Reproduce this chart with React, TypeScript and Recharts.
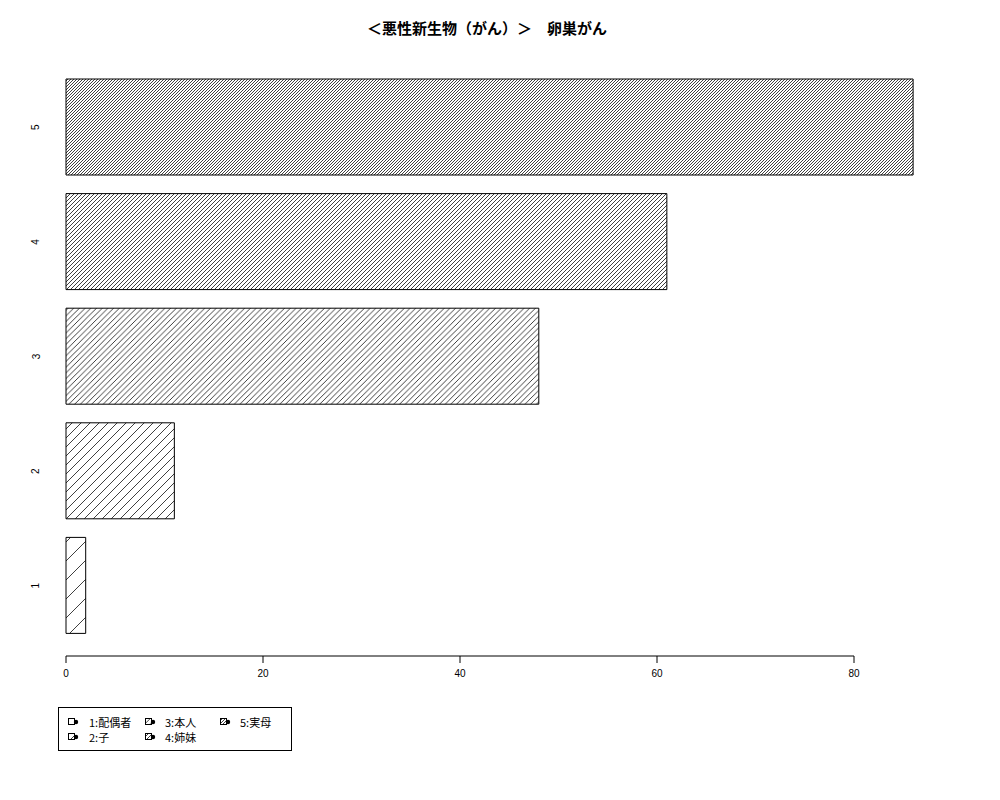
import React from 'react';
import { BarChart, Bar, XAxis, YAxis, Cell } from 'recharts';

const categories = ['1', '2', '3', '4', '5'];
const values = [2, 11, 48, 61, 86];
const legendLabels = ['1:配偶者', '2:子', '3:本人', '4:姉妹', '5:実母'];
const xTicks = [0, 20, 40, 60, 80];
const title = '＜悪性新生物（がん）＞　卵巣がん';

const hatchSpacing = [19, 9, 5.7, 4, 3];

const data = categories.map((c, i) => ({ name: c, value: values[i] }));

const FONT = '"Liberation Sans", Arial, sans-serif';
const CJK = '"Noto Sans CJK JP", "Liberation Sans", sans-serif';

const YTick = (props: any) => {
  const { x, y, payload } = props;
  return (
    <text
      x={x}
      y={y}
      transform={`rotate(-90 ${x} ${y})`}
      textAnchor="middle"
      dy="0.35em"
      fontSize={10}
      fontFamily={FONT}
      fill="#000"
    >
      {payload.value}
    </text>
  );
};

const Patterns = () => (
  <svg width={0} height={0} style={{ position: 'absolute', left: 0, top: 0 }}>
    <defs>
      {hatchSpacing.map((s, i) => (
        <pattern key={i} id={`hatch${i}`} patternUnits="userSpaceOnUse" width={s} height={s}>
          <rect x={0} y={0} width={s} height={s} fill="#fff" />
          <path
            d={`M-1,1 l2,-2 M0,${s} l${s},${-s} M${s - 1},${s + 1} l2,-2`}
            stroke="#000"
            strokeWidth={0.75}
            fill="none"
          />
        </pattern>
      ))}
    </defs>
  </svg>
);

const legendPos = [
  { kx: 68, tx: 89, y: 722 },
  { kx: 68, tx: 89, y: 737 },
  { kx: 145, tx: 165, y: 722 },
  { kx: 145, tx: 165, y: 737 },
  { kx: 220, tx: 240, y: 722 },
];

const LegendBox = () => (
  <div
    style={{
      position: 'absolute',
      left: 58,
      top: 707,
      width: 234,
      height: 44,
      boxSizing: 'border-box',
      border: '1px solid #000',
    }}
  >
    {legendLabels.map((lab, i) => {
      const p = legendPos[i];
      return (
        <React.Fragment key={i}>
          <svg
            width={11}
            height={8}
            style={{ position: 'absolute', left: p.kx - 59, top: p.y - 4 - 708 }}
          >
            <rect x={0.5} y={0.5} width={6} height={6} fill={`url(#hatch${i})`} stroke="#000" strokeWidth={1} />
            <circle cx={8} cy={4} r={2.2} fill="#000" />
          </svg>
          <div
            style={{
              position: 'absolute',
              left: p.tx - 59,
              top: p.y - 8 - 708,
              lineHeight: '16px',
              height: 16,
              fontSize: 11,
              fontFamily: CJK,
              color: '#000',
              whiteSpace: 'nowrap',
            }}
          >
            {lab}
          </div>
        </React.Fragment>
      );
    })}
  </div>
);

export default function App() {
  return (
    <div style={{ position: 'absolute', left: 0, top: 0, width: 1000, height: 800, background: '#fff', overflow: 'hidden' }}>
      <Patterns />
      <div
        style={{
          position: 'absolute',
          left: 0,
          top: 18,
          width: 974,
          textAlign: 'center',
          fontSize: 15,
          lineHeight: '20px',
          fontWeight: 'bold',
          fontFamily: CJK,
          color: '#000',
        }}
      >
        {title}
      </div>
      <div style={{ position: 'absolute', left: 0, top: 0 }}>
        <BarChart
          width={1000}
          height={800}
          data={data}
          layout="vertical"
          margin={{ top: 70, right: 47.5, bottom: 157, left: 10 }}
        >
          <XAxis type="number" domain={[0, 90]} hide />
          <YAxis
            type="category"
            dataKey="name"
            reversed
            width={56}
            tickLine={false}
            axisLine={false}
            tickSize={0}
            tickMargin={30}
            tick={<YTick />}
            interval={0}
          />
          <Bar dataKey="value" barSize={96} stroke="#000" strokeWidth={1} isAnimationActive={false}>
            {data.map((d, i) => (
              <Cell key={d.name} fill={`url(#hatch${i})`} />
            ))}
          </Bar>
        </BarChart>
      </div>
      <div style={{ position: 'absolute', left: 0, top: 0 }}>
        <BarChart
          width={1000}
          height={800}
          data={data}
          layout="vertical"
          margin={{ top: 0, right: 146, bottom: 114, left: 66 }}
        >
          <XAxis
            type="number"
            domain={[0, 80]}
            allowDataOverflow
            ticks={xTicks}
            height={30}
            tickSize={7}
            tickMargin={7}
            stroke="#000"
            interval={0}
            tick={{ fontSize: 10, fontFamily: FONT, fill: '#000' }}
          />
          <YAxis type="category" dataKey="name" hide />
          <Bar dataKey="value" hide isAnimationActive={false} />
        </BarChart>
      </div>
      <LegendBox />
    </div>
  );
}
